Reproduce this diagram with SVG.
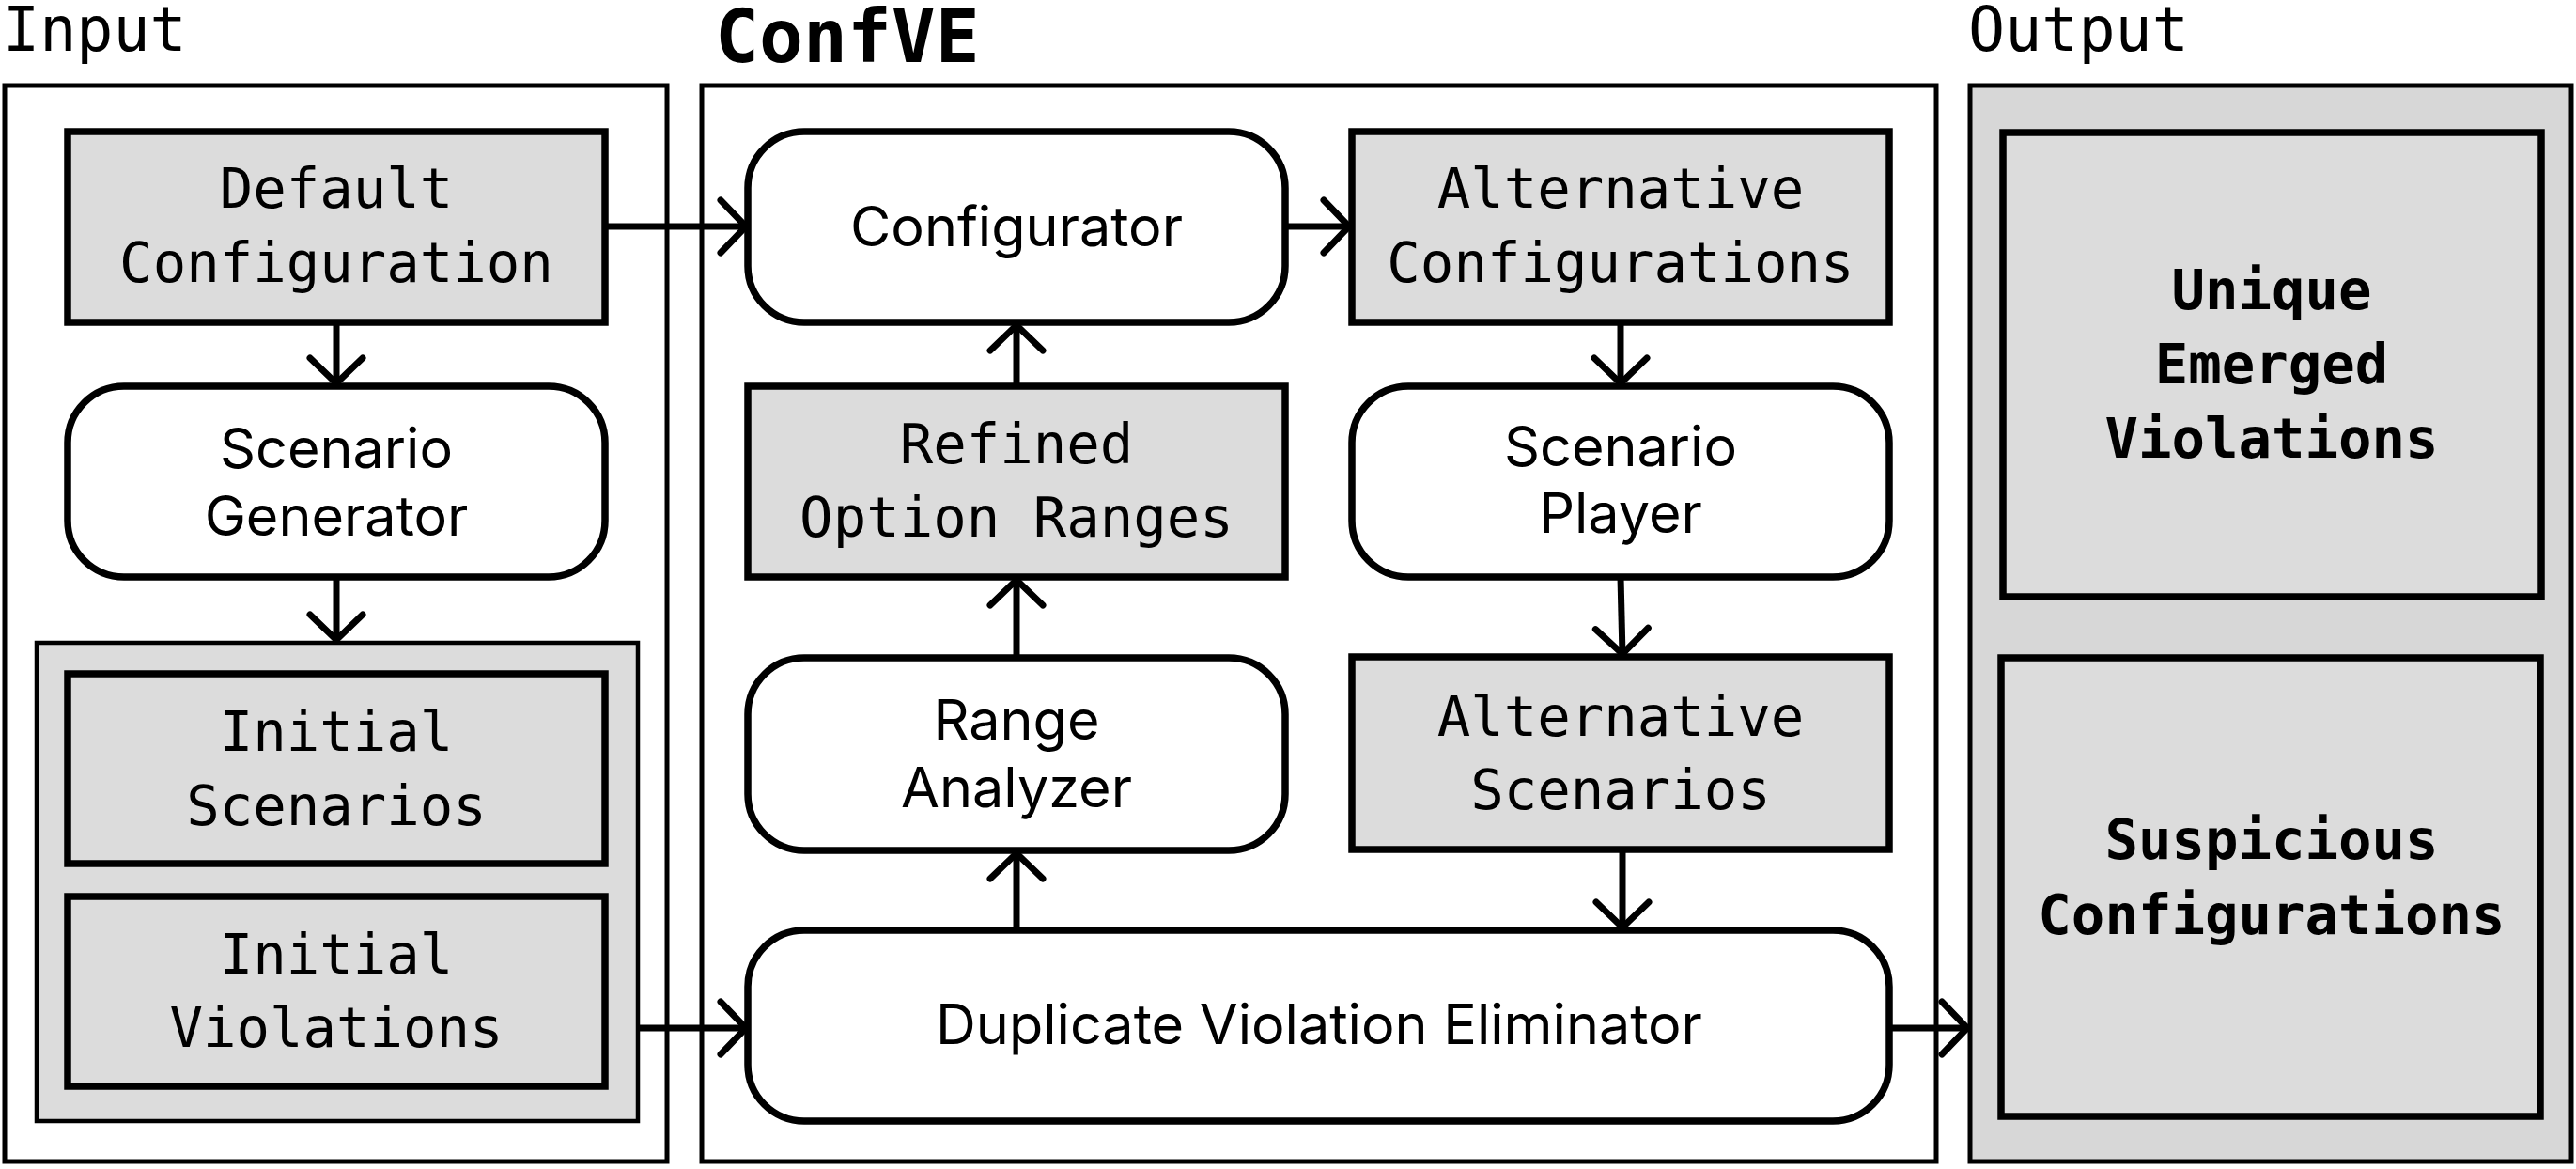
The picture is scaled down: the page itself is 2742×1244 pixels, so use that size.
<svg xmlns="http://www.w3.org/2000/svg" width="2742" height="1244" viewBox="0 0 2742 1244">
<defs>
<style>
.frame{fill:#fff;stroke:#000;stroke-width:5}
.outframe{fill:#d7d7d7;stroke:#000;stroke-width:5}
.data{fill:#dcdcdc;stroke:#000;stroke-width:7.5}
.proc{fill:#fff;stroke:#000;stroke-width:7.5}
.holder{fill:#dcdcdc;stroke:#000;stroke-width:4.5}
.mono{font-family:"DejaVu Sans Mono","Liberation Mono",monospace;font-size:59px;fill:#000;text-anchor:middle}
.monob{font-family:"DejaVu Sans Mono","Liberation Mono",monospace;font-size:59px;font-weight:bold;fill:#000;text-anchor:middle}
.sans{font-family:Inter,"Noto Sans","Liberation Sans",sans-serif;font-size:59.3px;fill:#000;text-anchor:middle}
.title{font-family:"DejaVu Sans Mono","Liberation Mono",monospace;font-size:65px;fill:#000}
.titleb{font-family:"DejaVu Sans Mono","Liberation Mono",monospace;font-size:78px;font-weight:bold;fill:#000}
.conn{fill:none;stroke:#000;stroke-width:7;marker-end:url(#arr)}
</style>
<marker id="arr" markerUnits="userSpaceOnUse" viewBox="-40 -40 50 80" refX="0" refY="0" markerWidth="50" markerHeight="80" orient="auto" overflow="visible">
<path d="M-28,-28 L-1,0 L-28,28" fill="none" stroke="#000" stroke-width="7" stroke-linecap="round" stroke-linejoin="miter"/>
</marker>
</defs>
<rect width="2742" height="1244" fill="#fff"/>

<g id="titles">
<text class="title" x="3" y="54">Input</text>
<text class="titleb" x="761" y="66">ConfVE</text>
<text class="title" x="2095" y="54">Output</text>
</g>

<g id="input-frame"><rect class="frame" x="5" y="91" width="705" height="1145"/></g>
<g id="confve-frame"><rect class="frame" x="747" y="91" width="1314" height="1145"/></g>
<g id="output-frame"><rect class="outframe" x="2097" y="91" width="640" height="1145"/></g>

<g id="default-configuration">
<rect class="data" x="72" y="140" width="572" height="203"/>
<text class="mono" x="358" y="221">Default</text>
<text class="mono" x="358" y="300">Configuration</text>
</g>
<g id="scenario-generator">
<rect class="proc" x="72" y="411" width="572" height="203" rx="60" ry="60"/>
<text class="sans" x="358" y="498">Scenario</text>
<text class="sans" x="358" y="570">Generator</text>
</g>
<g id="initial-inputs">
<rect class="holder" x="39" y="684" width="640" height="509"/>
</g>
<g id="initial-scenarios">
<rect class="data" x="72" y="717" width="572" height="202"/>
<text class="mono" x="358" y="799">Initial</text>
<text class="mono" x="358" y="878">Scenarios</text>
</g>
<g id="initial-violations">
<rect class="data" x="72" y="954" width="572" height="202"/>
<text class="mono" x="358" y="1036">Initial</text>
<text class="mono" x="358" y="1114">Violations</text>
</g>

<g id="configurator">
<rect class="proc" x="796" y="140" width="572" height="203" rx="60" ry="60"/>
<text class="sans" x="1082" y="262">Configurator</text>
</g>
<g id="alternative-configurations">
<rect class="data" x="1439" y="140" width="572" height="203"/>
<text class="mono" x="1725" y="221">Alternative</text>
<text class="mono" x="1725" y="300">Configurations</text>
</g>
<g id="refined-option-ranges">
<rect class="data" x="796" y="411" width="572" height="203"/>
<text class="mono" x="1082" y="493">Refined</text>
<text class="mono" x="1082" y="571">Option Ranges</text>
</g>
<g id="scenario-player">
<rect class="proc" x="1439" y="411" width="572" height="203" rx="60" ry="60"/>
<text class="sans" x="1725" y="496">Scenario</text>
<text class="sans" x="1725" y="567">Player</text>
</g>
<g id="range-analyzer">
<rect class="proc" x="796" y="700" width="572" height="205" rx="60" ry="60"/>
<text class="sans" x="1082" y="787">Range</text>
<text class="sans" x="1082" y="859">Analyzer</text>
</g>
<g id="alternative-scenarios">
<rect class="data" x="1439" y="699" width="572" height="205"/>
<text class="mono" x="1725" y="783">Alternative</text>
<text class="mono" x="1725" y="861">Scenarios</text>
</g>
<g id="duplicate-violation-eliminator">
<rect class="proc" x="796" y="990" width="1215" height="203" rx="60" ry="60"/>
<text class="sans" x="1404" y="1111">Duplicate Violation Eliminator</text>
</g>

<g id="unique-emerged-violations">
<rect class="data" x="2132" y="141" width="573" height="494"/>
<text class="monob" x="2418" y="329">Unique</text>
<text class="monob" x="2418" y="408">Emerged</text>
<text class="monob" x="2418" y="487">Violations</text>
</g>
<g id="suspicious-configurations">
<rect class="data" x="2130" y="700" width="574" height="488"/>
<text class="monob" x="2418" y="914">Suspicious</text>
<text class="monob" x="2418" y="994">Configurations</text>
</g>

<g id="connectors">
<line class="conn" x1="644" y1="241" x2="795" y2="241"/>
<line class="conn" x1="358" y1="343" x2="358" y2="409"/>
<line class="conn" x1="358" y1="614" x2="358" y2="682"/>
<line class="conn" x1="1368" y1="241" x2="1437" y2="241"/>
<line class="conn" x1="1082" y1="411" x2="1082" y2="345"/>
<line class="conn" x1="1082" y1="700" x2="1082" y2="616"/>
<line class="conn" x1="1082" y1="990" x2="1082" y2="907"/>
<line class="conn" x1="1725" y1="343" x2="1725" y2="409"/>
<line class="conn" x1="1725" y1="614" x2="1727" y2="697"/>
<line class="conn" x1="1727" y1="904" x2="1727" y2="988"/>
<line class="conn" x1="679" y1="1094" x2="795" y2="1094"/>
<line class="conn" x1="2011" y1="1094" x2="2095" y2="1094"/>
</g>
</svg>
